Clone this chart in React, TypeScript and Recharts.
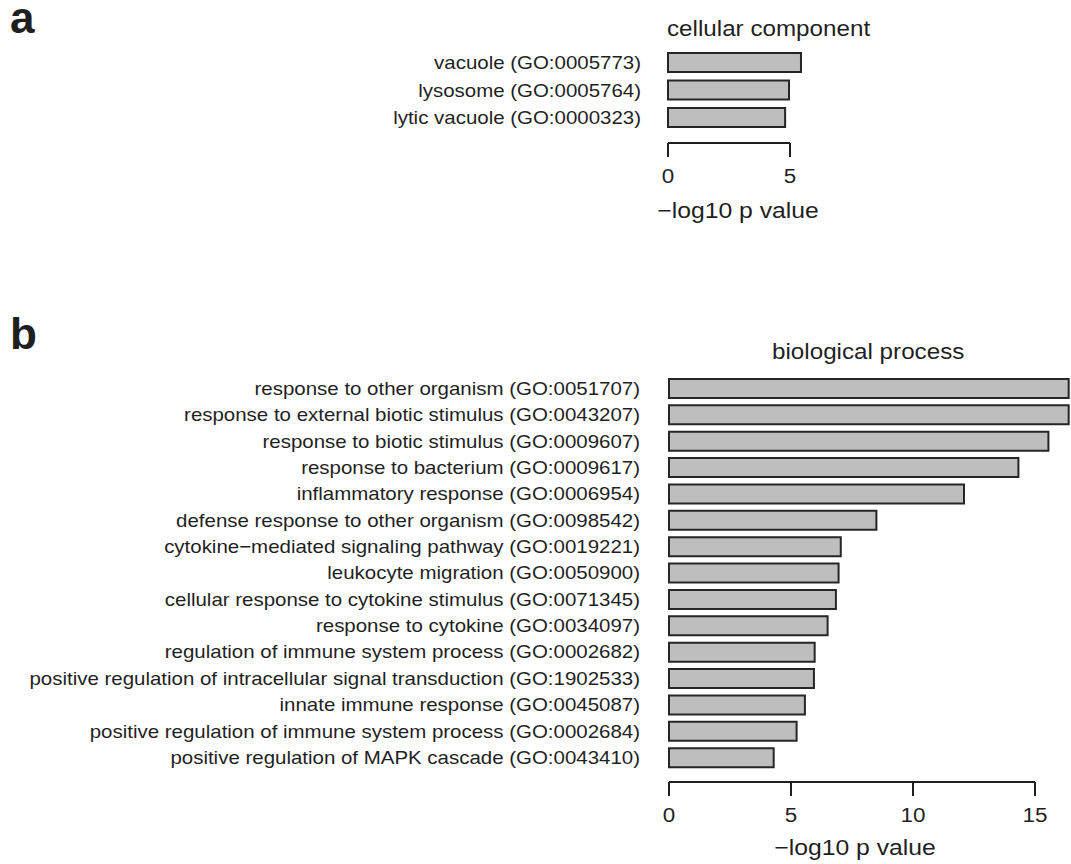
import React from "react";
import { BarChart, Bar, XAxis, YAxis } from "recharts";

// GO enrichment, -log10 p values
const ccTerms = [
  "vacuole (GO:0005773)",
  "lysosome (GO:0005764)",
  "lytic vacuole (GO:0000323)",
];
const ccValues = [5.45, 4.96, 4.8];
const ccTicks = [0, 5];

const bpTerms = [
  "response to other organism (GO:0051707)",
  "response to external biotic stimulus (GO:0043207)",
  "response to biotic stimulus (GO:0009607)",
  "response to bacterium (GO:0009617)",
  "inflammatory response (GO:0006954)",
  "defense response to other organism (GO:0098542)",
  "cytokine\u2212mediated signaling pathway (GO:0019221)",
  "leukocyte migration (GO:0050900)",
  "cellular response to cytokine stimulus (GO:0071345)",
  "response to cytokine (GO:0034097)",
  "regulation of immune system process (GO:0002682)",
  "positive regulation of intracellular signal transduction (GO:1902533)",
  "innate immune response (GO:0045087)",
  "positive regulation of immune system process (GO:0002684)",
  "positive regulation of MAPK cascade (GO:0043410)",
];
const bpValues = [
  16.38, 16.38, 15.55, 14.32, 12.09, 8.5, 7.04, 6.95, 6.84, 6.5, 5.97, 5.94,
  5.57, 5.23, 4.29,
];
const bpTicks = [0, 5, 10, 15];

const FONT = '"Liberation Sans", Arial, Helvetica, sans-serif';
const INK = "#1f1f1f";
// the figure's type is a little wider than Arial
const STRETCH = 1.1;

const TermTick = (props: any) => {
  const { x, y, payload } = props;
  return (
    <text
      transform={`translate(${x},${y}) scale(${STRETCH},1)`}
      textAnchor="end"
      dy="0.355em"
      fill={INK}
      fontSize={18.6}
      fontFamily={FONT}
    >
      {payload.value}
    </text>
  );
};

const ValueTick = (props: any) => {
  const { x, y, payload } = props;
  return (
    <text
      transform={`translate(${x},${y}) scale(1.15,1)`}
      textAnchor="middle"
      dy="0.71em"
      fill={INK}
      fontSize={19.5}
      fontFamily={FONT}
    >
      {payload.value}
    </text>
  );
};

const axisTitle = (dx: number, offset: number) => (p: any) => {
  const vb = p && p.viewBox;
  if (!vb) return null;
  return (
    <text
      transform={`translate(${vb.x + vb.width / 2 + dx},${vb.y + vb.height - offset}) scale(${STRETCH},1)`}
      textAnchor="middle"
      fill={INK}
      fontSize={22.5}
      fontFamily={FONT}
    >
      {"\u2212log10 p value"}
    </text>
  );
};

type PanelProps = {
  terms: string[];
  values: number[];
  ticks: number[];
  top: number;
  width: number;
  height: number;
  marginTop: number;
  marginRight: number;
  axisWidth: number;
  labelGap: number;
  titleDx: number;
  titleOffset: number;
};

const GoPanel: React.FC<PanelProps> = ({
  terms,
  values,
  ticks,
  top,
  width,
  height,
  marginTop,
  marginRight,
  axisWidth,
  labelGap,
  titleDx,
  titleOffset,
}) => {
  const rows = terms.map((term, i) => ({ term, value: values[i] }));
  return (
    <div style={{ position: "absolute", left: 0, top }}>
      <BarChart
        width={width}
        height={height}
        data={rows}
        layout="vertical"
        margin={{ top: marginTop, right: marginRight, bottom: 0, left: 0 }}
        barSize={19}
      >
        <XAxis
          type="number"
          domain={[ticks[0], ticks[ticks.length - 1]]}
          ticks={ticks}
          allowDataOverflow
          height={82}
          tickSize={14}
          tickMargin={12}
          stroke={INK}
          axisLine={{ strokeWidth: 2 }}
          tickLine={{ strokeWidth: 2 }}
          tick={<ValueTick />}
          label={{ content: axisTitle(titleDx, titleOffset) }}
        />
        <YAxis
          type="category"
          dataKey="term"
          width={axisWidth}
          axisLine={false}
          tickLine={false}
          tickSize={0}
          tickMargin={labelGap}
          interval={0}
          padding={{ top: 0, bottom: 11.5 }}
          tick={<TermTick />}
        />
        <Bar
          dataKey="value"
          fill="#bebebe"
          stroke="#262626"
          strokeWidth={2}
          isAnimationActive={false}
        />
      </BarChart>
    </div>
  );
};

const textStyle: React.CSSProperties = {
  position: "absolute",
  fontFamily: FONT,
  color: INK,
  lineHeight: 1,
  whiteSpace: "nowrap",
  transformOrigin: "left center",
};

export default function App() {
  return (
    <div
      style={{
        position: "absolute",
        left: 0,
        top: 0,
        width: 1071,
        height: 864,
        background: "#fff",
      }}
    >
      <style>{".recharts-wrapper g[clip-path]{clip-path:none !important}"}</style>
      <div style={{ ...textStyle, left: 10, top: 0, fontSize: 44, lineHeight: "36px", fontWeight: 700 }}>a</div>
      <div style={{ ...textStyle, left: 10, top: 316, fontSize: 44, lineHeight: "36px", fontWeight: 700 }}>b</div>
      <div style={{ ...textStyle, left: 667, top: 18, fontSize: 22, transform: `scaleX(${STRETCH})` }}>
        cellular component
      </div>
      <div style={{ ...textStyle, left: 772, top: 341, fontSize: 22, transform: `scaleX(${STRETCH})` }}>
        biological process
      </div>
      <GoPanel
        terms={ccTerms}
        values={ccValues}
        ticks={ccTicks}
        top={0}
        width={850}
        height={225}
        marginTop={49}
        marginRight={60}
        axisWidth={668}
        labelGap={27}
        titleDx={9}
        titleOffset={7}
      />
      <GoPanel
        terms={bpTerms}
        values={bpValues}
        ticks={bpTicks}
        top={340}
        width={1071}
        height={524}
        marginTop={35}
        marginRight={36}
        axisWidth={669}
        labelGap={29}
        titleDx={3}
        titleOffset={9}
      />
    </div>
  );
}
